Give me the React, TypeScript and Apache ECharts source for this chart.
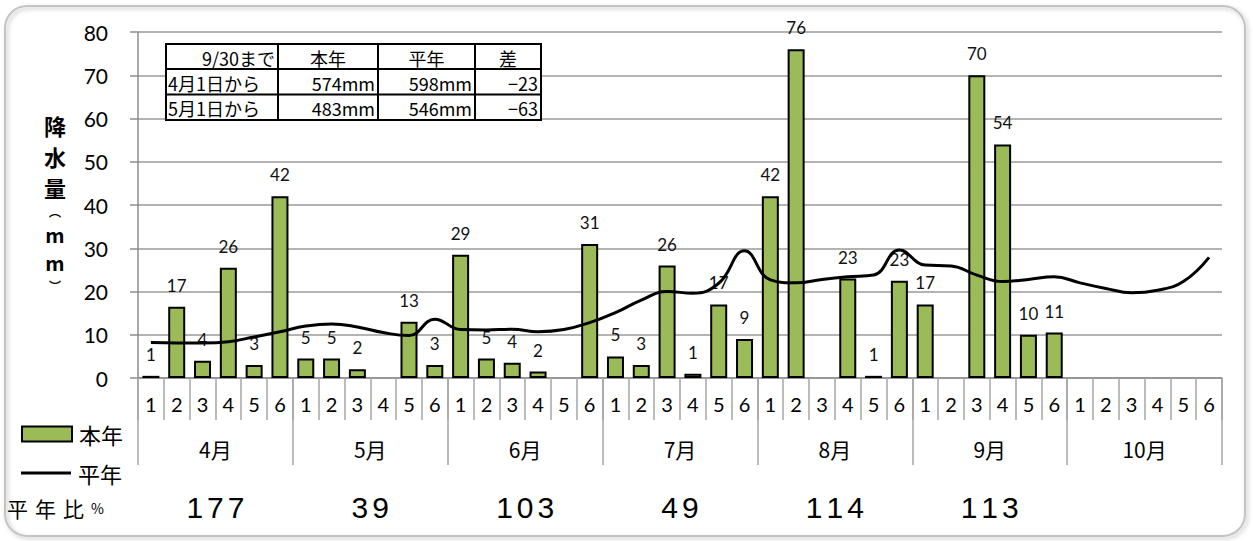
import React, { useEffect, useRef } from "react";
import * as echarts from "echarts";

const MONTHS = ["4月", "5月", "6月", "7月", "8月", "9月", "10月"];
const DAYS = ["1", "2", "3", "4", "5", "6"];

// 本年 (this year) rainfall per 5-day period, mm
const THIS_YEAR: (number | null)[] = [
  0.5, 16.5, 4, 25.5, 3, 42,
  4.5, 4.5, 2, null, 13, 3,
  28.5, 4.5, 3.5, 1.5, null, 31,
  5, 3, 26, 1, 17, 9,
  42, 76, null, 23, 0.5, 22.5,
  17, null, 70, 54, 10, 10.5,
  null, null, null, null, null, null,
];

// 平年 (normal) rainfall per 5-day period, mm
const NORMAL: number[] = [
  8.2, 8.1, 8.1, 8.4, 9.5, 10.7,
  12.0, 12.5, 11.8, 10.5, 9.8, 13.6,
  11.2, 11.1, 11.3, 10.7, 11.2, 12.8,
  15.1, 18.0, 20.0, 19.6, 21.9, 29.4,
  22.7, 22.0, 22.8, 23.4, 23.8, 29.6,
  26.1, 25.9, 23.8, 22.3, 22.8, 23.4,
  22.0, 20.7, 19.7, 20.3, 22.3, 27.9,
];

const RATIOS = ["177", "39", "103", "49", "114", "113", ""];

const Y_MIN = 0;
const Y_MAX = 80;
const Y_INTERVAL = 10;

const TABLE_HEAD = ["9/30まで", "本年", "平年", "差"];
const TABLE_ROW1 = ["4月1日から", "574mm", "598mm", "−23"];
const TABLE_ROW2 = ["5月1日から", "483mm", "546mm", "−63"];

const CJK = '"Noto Sans CJK JP", "Noto Sans", sans-serif';
const NUM = 'Lato, "Noto Sans", sans-serif';

export default function App() {
  const ref = useRef<HTMLDivElement>(null);

  useEffect(() => {
    document.body.style.margin = "0";
    if (!ref.current) return;
    const chart = echarts.init(ref.current, undefined, { renderer: "svg" });

    const categories = MONTHS.flatMap((m) => DAYS.map((d) => m + "|" + d));

    // table graphic
    const colX = [166, 278, 378, 475, 541];
    const rowY = [44, 69, 94.5, 120];
    const rows = [TABLE_HEAD, TABLE_ROW1, TABLE_ROW2];
    const tableEls: any[] = [];
    tableEls.push({
      type: "rect",
      shape: { x: colX[0], y: rowY[0], width: colX[4] - colX[0], height: rowY[3] - rowY[0] },
      style: { fill: "#fff", stroke: "#000", lineWidth: 2 },
      z: 100,
    });
    for (let i = 1; i < 4; i++) {
      tableEls.push({
        type: "line",
        shape: { x1: colX[i], y1: rowY[0], x2: colX[i], y2: rowY[3] },
        style: { stroke: "#000", lineWidth: 2 },
        z: 101,
      });
    }
    for (let j = 1; j < 3; j++) {
      tableEls.push({
        type: "line",
        shape: { x1: colX[0], y1: rowY[j], x2: colX[4], y2: rowY[j] },
        style: { stroke: "#000", lineWidth: 2 },
        z: 101,
      });
    }
    rows.forEach((row, r) => {
      const cy = (rowY[r] + rowY[r + 1]) / 2;
      row.forEach((txt, c) => {
        let x: number;
        let align: string;
        if (r === 0 && c > 0) {
          x = (colX[c] + colX[c + 1]) / 2;
          align = "center";
        } else if (r > 0 && c === 0) {
          x = colX[0] + 2;
          align = "left";
        } else {
          x = colX[c + 1] - 3;
          align = "right";
        }
        tableEls.push({
          type: "text",
          x,
          y: cy + 1,
          z: 102,
          style: {
            text: txt,
            fontSize: 18,
            fontFamily: CJK,
            fill: "#000",
            align,
            verticalAlign: "middle",
          },
        });
      });
    });

    // vertical y-axis title, one glyph per element, stacked without overlap
    const yLabelChars = [
      { t: "降", y: 125, s: 22 },
      { t: "水", y: 156, s: 22 },
      { t: "量", y: 187, s: 22 },
      { t: "︵", y: 211, s: 12 },
      { t: "m", y: 234, s: 20 },
      { t: "m", y: 262, s: 20 },
      { t: "︶", y: 285, s: 12 },
    ];
    const yLabelEls = yLabelChars.map((c) => ({
      type: "text",
      x: 55,
      y: c.y,
      style: {
        text: c.t,
        fontSize: c.s,
        fontWeight: "bold",
        fontFamily: CJK,
        fill: "#000",
        align: "center",
        verticalAlign: "middle",
      },
    }));

    const spaced = (s: string) =>
      s
        .split("")
        .map((ch) => "{d|" + ch + "}")
        .join("");

    const option: any = {
      animation: false,
      backgroundColor: "#fff",
      grid: { left: 138, right: 31, top: 32, bottom: 163, containLabel: false },
      legend: [
        {
          data: [{ name: "本年", icon: "rect" }],
          left: 16,
          top: 418,
          itemWidth: 50,
          itemHeight: 15,
          selectedMode: false,
          textStyle: { fontSize: 22, fontFamily: CJK, color: "#000", padding: [0, 0, 0, 2] },
        },
        {
          data: [{ name: "平年", icon: "rect", itemStyle: { color: "#000", borderWidth: 0 } }],
          left: 16,
          top: 457,
          itemWidth: 50,
          itemHeight: 3,
          selectedMode: false,
          textStyle: { fontSize: 22, fontFamily: CJK, color: "#000", padding: [0, 0, 0, 2] },
        },
      ],
      xAxis: [
        {
          type: "category",
          data: categories,
          position: "bottom",
          boundaryGap: true,
          axisLine: { onZero: false, lineStyle: { color: "#8c8c8c", width: 1.5 } },
          axisTick: { show: true, interval: 0, length: 42, lineStyle: { color: "#a6a6a6", width: 1.5 } },
          axisLabel: {
            interval: 0,
            margin: 16,
            fontSize: 20,
            fontFamily: NUM,
            color: "#000",
            formatter: (v: string) => v.split("|")[1],
          },
          splitLine: { show: false },
        },
        {
          type: "category",
          data: MONTHS,
          position: "bottom",
          boundaryGap: true,
          axisLine: { show: false, onZero: false },
          axisTick: { show: true, interval: 0, length: 87, lineStyle: { color: "#a6a6a6", width: 1.5 } },
          axisLabel: { interval: 0, margin: 60, fontSize: 21, fontFamily: CJK, color: "#000" },
          splitLine: { show: false },
        },
        {
          type: "category",
          data: MONTHS,
          position: "bottom",
          boundaryGap: true,
          axisLine: { show: false, onZero: false },
          axisTick: { show: false },
          axisLabel: {
            interval: 0,
            margin: 114,
            color: "#000",
            formatter: (_v: string, i: number) => (RATIOS[i] ? spaced(RATIOS[i]) : ""),
            rich: {
              d: {
                fontSize: 30,
                fontFamily: '"Liberation Sans", Arial, sans-serif',
                color: "#000",
                padding: [0, 2, 0, 2],
              },
            },
          },
          splitLine: { show: false },
        },
      ],
      yAxis: {
        type: "value",
        min: Y_MIN,
        max: Y_MAX,
        interval: Y_INTERVAL,
        axisLine: { show: true, lineStyle: { color: "#8c8c8c", width: 1.5 } },
        axisTick: { show: true, length: 8, lineStyle: { color: "#8c8c8c", width: 1.5 } },
        axisLabel: { margin: 30, fontSize: 21, fontFamily: NUM, color: "#000" },
        splitLine: { show: true, lineStyle: { color: "#9a9a9a", width: 1.5 } },
      },
      series: [
        {
          name: "本年",
          type: "bar",
          xAxisIndex: 0,
          data: THIS_YEAR,
          barWidth: 17,
          itemStyle: { color: "#9BBB59", borderColor: "#000", borderWidth: 2 },
          label: {
            show: true,
            position: "top",
            distance: 13,
            fontSize: 17,
            fontFamily: NUM,
            color: "#111",
            formatter: (p: any) => (p.value == null ? "" : String(Math.round(p.value))),
          },
          z: 2,
        },
        {
          name: "平年",
          type: "line",
          xAxisIndex: 0,
          data: NORMAL,
          smooth: 0.45,
          symbol: "none",
          lineStyle: { color: "#000", width: 3 },
          itemStyle: { color: "#000" },
          z: 3,
        },
      ],
      graphic: [
        {
          type: "rect",
          shape: { x: 5, y: 6, width: 1240, height: 530, r: 22 },
          style: {
            fill: "none",
            stroke: "#c4c4c4",
            lineWidth: 2,
            shadowBlur: 4,
            shadowColor: "rgba(0,0,0,0.25)",
            shadowOffsetX: 2,
            shadowOffsetY: 2,
          },
          silent: true,
          z: -1,
        },
        ...tableEls,
        ...yLabelEls,
        {
          type: "text",
          x: 7,
          y: 508,
          style: {
            text: "{a|平}{a|年}{a|比}{b|%}",
            verticalAlign: "middle",
            rich: {
              a: { fontSize: 21, fontFamily: CJK, fill: "#000", padding: [0, 7, 0, 0] },
              b: { fontSize: 14, fontFamily: CJK, fill: "#000" },
            },
          },
        },
      ],
    };

    chart.setOption(option);
    return () => chart.dispose();
  }, []);

  return (
    <div
      ref={ref}
      style={{ position: "absolute", left: 0, top: 0, width: 1253, height: 541 }}
    />
  );
}
